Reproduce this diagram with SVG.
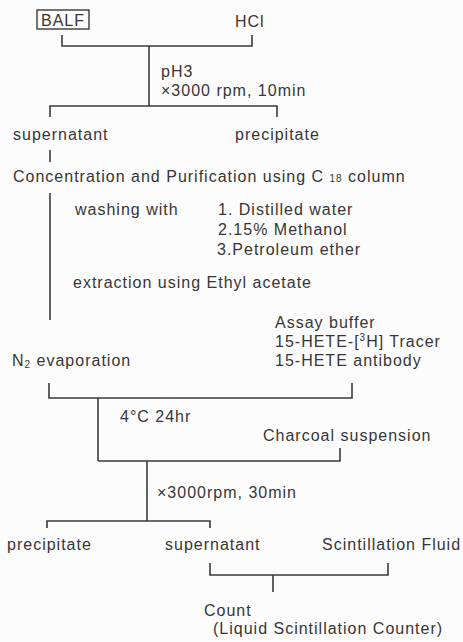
<svg xmlns="http://www.w3.org/2000/svg" width="463" height="642" viewBox="0 0 463 642">
<style>
text{font-family:"Liberation Sans",Arial,sans-serif;font-size:16px;letter-spacing:1px;fill:#363636}
.c{fill:none;stroke:#3a3a3a;stroke-width:1.6}
.sub{font-size:10px}
</style>
<rect width="463" height="642" fill="#fcfcfc"/>
<g id="connectors" class="c">
<path d="M62,35V46H252V35"/>
<path d="M149,46V106"/>
<path d="M50,117V106H277V117"/>
<path d="M50,150V162"/>
<path d="M50,193V320"/>
<path d="M49,383V398H352V383"/>
<path d="M98,398V461"/>
<path d="M340,448V461H98"/>
<path d="M147,461V521"/>
<path d="M47,528V521H210V528"/>
<path d="M210,563V575H388V563"/>
<path d="M273,575V592"/>
</g>
<g id="balf"><rect x="37" y="10" width="52" height="19" fill="none" stroke="#3a3a3a" stroke-width="1.4"/><text x="41" y="26">BALF</text></g>
<g id="hcl"><text x="235" y="27">HCl</text></g>
<g id="cond1"><text x="161" y="77">pH3</text><text x="161" y="96">×3000 rpm, 10min</text></g>
<g id="supernatant1"><text x="13" y="140">supernatant</text></g>
<g id="precipitate1"><text x="235" y="140">precipitate</text></g>
<g id="column"><text x="13" y="182">Concentration and Purification using C <tspan class="sub">18</tspan> column</text></g>
<g id="washing"><text x="75" y="215">washing with</text><text x="218" y="215">1. Distilled water</text><text x="218" y="235">2.15% Methanol</text><text x="217" y="255">3.Petroleum ether</text></g>
<g id="extraction"><text x="73" y="288">extraction using Ethyl acetate</text></g>
<g id="reagents"><text x="275" y="328">Assay buffer</text><text x="275" y="347">15-HETE-[<tspan class="sub" dy="-6">3</tspan><tspan dy="6">H] Tracer</tspan></text><text x="275" y="366">15-HETE antibody</text></g>
<g id="n2"><text x="12" y="366">N<tspan class="sub" dy="2">2</tspan><tspan dy="-2"> evaporation</tspan></text></g>
<g id="incubation"><text x="120" y="422">4°C 24hr</text></g>
<g id="charcoal"><text x="263" y="441">Charcoal suspension</text></g>
<g id="cond2"><text x="157" y="498">×3000rpm, 30min</text></g>
<g id="precipitate2"><text x="7" y="550">precipitate</text></g>
<g id="supernatant2"><text x="165" y="550">supernatant</text></g>
<g id="fluid"><text x="322" y="550">Scintillation Fluid</text></g>
<g id="count"><text x="204" y="616">Count</text><text x="213" y="634">(Liquid Scintillation Counter)</text></g>
</svg>
